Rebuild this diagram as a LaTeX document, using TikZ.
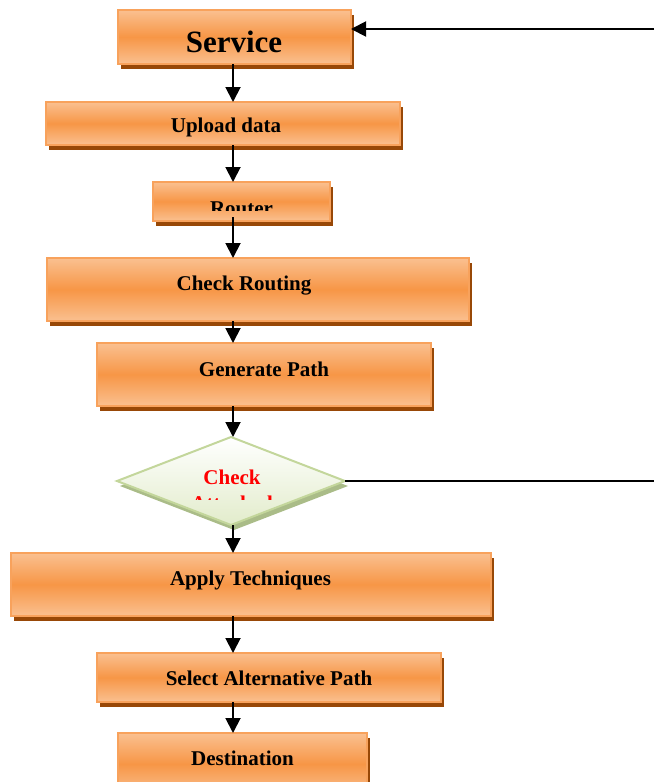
\documentclass[tikz,border=0pt]{standalone}
\usepackage{fontspec}
\setmainfont{Liberation Serif}
\usetikzlibrary{arrows.meta,shapes.geometric,shadows}

\definecolor{orMid}{HTML}{F79646}
\definecolor{orLight}{HTML}{FAC090}
\definecolor{orEdge}{HTML}{F8A25C}
\definecolor{orShadow}{HTML}{984807}
\definecolor{gnLight}{HTML}{E2ECCB}
\definecolor{gnEdge}{HTML}{C3D69B}
\definecolor{gnShadow}{HTML}{AABC88}
\definecolor{alertred}{HTML}{FF0000}

\begin{document}
\begin{tikzpicture}[x=1pt,y=-1pt,
  procbox/.style={rectangle, inner sep=0pt, outer sep=0pt,
    draw=orEdge, line width=1.5pt,
    top color=orLight, bottom color=orLight, middle color=orMid,
    general shadow={fill=orShadow, shadow xshift=3pt, shadow yshift=-5pt}},
  decision/.style={diamond, inner sep=0pt, outer sep=0pt,
    draw=gnEdge, line width=2pt,
    top color=white, bottom color=gnLight,
    general shadow={fill=gnShadow, shadow xshift=3pt, shadow yshift=-5pt}},
  lbl/.style={anchor=base, inner sep=0pt, font=\fontsize{21}{24}\selectfont\bfseries},
  biglbl/.style={anchor=base, inner sep=0pt, font=\fontsize{31}{36}\selectfont\bfseries},
  redlbl/.style={lbl, text=alertred},
  flow/.style={line width=1.9pt, -{Triangle[width=15pt,length=15pt]}},
  wire/.style={line width=1.9pt}]

\clip (0,0) rectangle (654,782);

% process boxes
\node[procbox, minimum width=233, minimum height=54] (service) at (234.5,37) {};
\node[procbox, minimum width=354, minimum height=43] (upload)  at (223,123.5) {};
\node[procbox, minimum width=177, minimum height=39] (router)  at (241.5,201.5) {};
\node[procbox, minimum width=422, minimum height=63] (routing) at (258,289.5) {};
\node[procbox, minimum width=334, minimum height=63] (genpath) at (264,374.5) {};
\node[decision, minimum width=228, minimum height=88] (check) at (231,481) {};
\node[procbox, minimum width=480, minimum height=63] (apply)   at (251,584.5) {};
\node[procbox, minimum width=344, minimum height=49] (select)  at (269,677.5) {};
\node[procbox, minimum width=249, minimum height=62] (dest)    at (242.5,764) {};

% labels
\node[biglbl] (t-service) at (234,52) {Service};
\node[lbl] (t-upload) at (226,132) {Upload data};
\begin{scope}
  \clip (router.north west) rectangle (router.east |- 0,210);
  \node[lbl] (t-router) at (241.5,215) {Router};
\end{scope}
\node[lbl] (t-routing) at (244,290) {Check Routing};
\node[lbl] (t-genpath) at (264,376) {Generate Path};
\node[redlbl] (t-check) at (232,484) {Check};
\begin{scope}
  \clip (check.west |- 0,440) rectangle (check.east |- 0,499);
  \node[redlbl] (t-attack) at (232,510) {Attacked};
\end{scope}
\node[lbl] (t-apply) at (250.5,585) {Apply Techniques};
\node[lbl] (t-select) at (269,685) {Select Alternative Path};
\node[lbl] (t-dest) at (242.5,765) {Destination};

% main flow along one vertical spine
\coordinate (spine) at (233,0);
\draw[flow] (service.south -| spine) -- (upload.north -| spine);
\draw[flow] (upload.south -| spine) -- (router.north -| spine);
\draw[flow] ([yshift=4pt]router.south -| spine) -- (routing.north -| spine);
\draw[flow] (routing.south -| spine) -- (genpath.north -| spine);
\draw[flow] (genpath.south -| spine) -- (check.north -| spine);
\draw[flow] (check.south -| spine) -- (apply.north -| spine);
\draw[flow] (apply.south -| spine) -- (select.north -| spine);
\draw[flow] (select.south -| spine) -- (dest.north -| spine);

% feedback lines at the right edge
\coordinate (fbin) at (654,29);
\coordinate (fbout) at (654,482);
\draw[flow] (fbin) -- (fbin -| service.east);
\draw[wire] (check.east) -- (check.east -| fbout);
\end{tikzpicture}
\end{document}
